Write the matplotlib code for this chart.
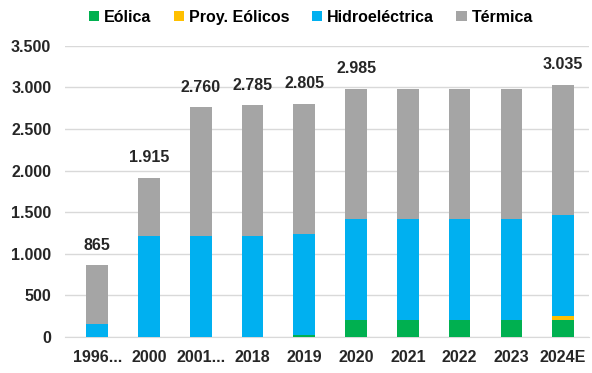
import matplotlib.pyplot as plt
import numpy as np

plt.rcParams['font.family'] = ['Liberation Sans', 'DejaVu Sans']

anios = ['1996...', '2000', '2001...', '2018', '2019', '2020', '2021', '2022', '2023', '2024E']
eolica = [0, 0, 0, 0, 20, 200, 200, 200, 200, 200]
proy_eolicos = [0, 0, 0, 0, 0, 0, 0, 0, 0, 50]
hidro = [155, 1215, 1215, 1215, 1215, 1215, 1215, 1215, 1215, 1215]
termica = [710, 700, 1545, 1570, 1570, 1570, 1570, 1570, 1570, 1570]
# solo algunos años llevan el total encima
con_total = ['1996...', '2000', '2001...', '2018', '2019', '2020', '2024E']

series = [
    ('Eólica', eolica, '#00B050'),
    ('Proy. Eólicos', proy_eolicos, '#FFC000'),
    ('Hidroeléctrica', hidro, '#00B0F0'),
    ('Térmica', termica, '#A5A5A5'),
]

fig = plt.figure(figsize=(5.92, 3.73), dpi=100)
ax = fig.add_axes([0.11, 0.0965, 0.885, 0.7805])

x = np.arange(len(anios))
base = np.zeros(len(anios))
for nombre, valores, color in series:
    ax.bar(x, valores, 0.42, bottom=base, color=color, label=nombre, zorder=3)
    base = base + np.array(valores)

for xi, anio, total in zip(x, anios, base):
    if anio not in con_total:
        continue
    ax.annotate(f'{int(total):,}'.replace(',', '.'), (xi, total), xytext=(0, 9),
                textcoords='offset points', ha='center', va='bottom',
                fontsize=11.5, fontweight='bold', color='#262626')

ax.set_ylim(0, 3500)
ax.set_xlim(-0.62, len(anios) - 0.5)
ax.set_yticks(np.arange(0, 3501, 500))
ax.set_yticklabels([f'{v:,}'.replace(',', '.') for v in range(0, 3501, 500)])
ax.set_xticks(x)
ax.set_xticklabels(anios)
ax.grid(axis='y', color='#D9D9D9', lw=1, zorder=0)
for s in ['top', 'right', 'left']:
    ax.spines[s].set_visible(False)
ax.spines['bottom'].set_color('#D9D9D9')
ax.tick_params(axis='both', length=0, labelsize=11.5, labelcolor='#262626')
ax.tick_params(axis='x', pad=9)
ax.tick_params(axis='y', pad=10)
for lbl in ax.get_xticklabels() + ax.get_yticklabels():
    lbl.set_fontweight('bold')

fig.legend(loc='center', bbox_to_anchor=(0.525, 0.954), ncol=4, frameon=False,
           handlelength=0.65, handleheight=0.65, handletextpad=0.3, columnspacing=1.4,
           prop={'weight': 'bold', 'size': 11.5})

plt.savefig('out.png')
